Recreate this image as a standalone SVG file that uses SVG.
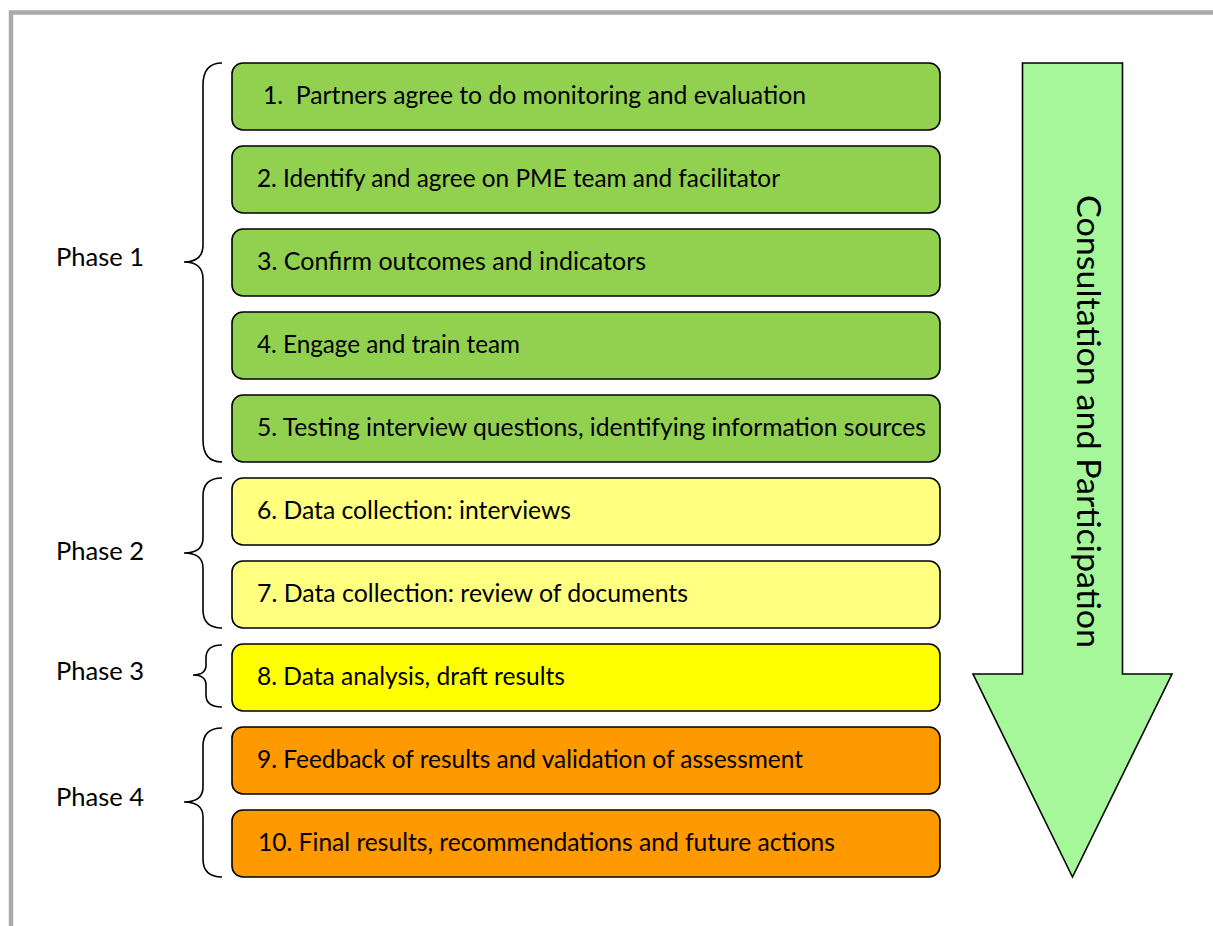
<svg xmlns="http://www.w3.org/2000/svg" width="1213" height="926" viewBox="0 0 1213 926">
  <style>
    .step { stroke: #000; stroke-width: 1.6; }
    .g { fill: #92D050; }
    .ly { fill: #FFFF80; }
    .y { fill: #FFFF00; }
    .o { fill: #FF9900; }
    text { font-family: Lato, "Open Sans", "Liberation Sans", sans-serif; fill: #000; }
    .lbl { font-size: 25px; }
    .brace { fill: none; stroke: #000; stroke-width: 1.6; }
  </style>

  <rect width="1213" height="926" fill="#fff"/>
  <!-- page frame -->
  <rect x="11" y="12.5" width="1300" height="1000" fill="none" stroke="#AAAAAA" stroke-width="4.5"/>

  <!-- phase braces and labels -->
  <g id="phase1">
    <path class="brace" d="M222,63 Q203,63 203,85 L203,245 Q203,262 184,262 Q203,262 203,279 L203,440 Q203,462 222,462"/>
    <text class="lbl" x="56" y="266" textLength="88" lengthAdjust="spacingAndGlyphs">Phase 1</text>
  </g>
  <g id="phase2">
    <path class="brace" d="M222,478 Q203,478 203,496 L203,538 Q203,553 184,553 Q203,553 203,568 L203,610 Q203,628 222,628"/>
    <text class="lbl" x="56" y="560" textLength="88" lengthAdjust="spacingAndGlyphs">Phase 2</text>
  </g>
  <g id="phase3">
    <path class="brace" d="M222,645 Q206,645 206,658 L206,665 Q206,675 193,675 Q206,675 206,685 L206,695 Q206,707 222,707"/>
    <text class="lbl" x="56" y="680" textLength="88" lengthAdjust="spacingAndGlyphs">Phase 3</text>
  </g>
  <g id="phase4">
    <path class="brace" d="M222,728 Q203,728 203,746 L203,787 Q203,802 184,802 Q203,802 203,817 L203,859 Q203,877 222,877"/>
    <text class="lbl" x="56" y="806" textLength="88" lengthAdjust="spacingAndGlyphs">Phase 4</text>
  </g>

  <!-- process steps -->
  <g id="step1">
    <rect class="step g" x="232" y="63" width="708" height="67" rx="11"/>
    <text class="lbl" x="263" y="104" textLength="543" lengthAdjust="spacingAndGlyphs" xml:space="preserve">1.  Partners agree to do monitoring and evaluation</text>
  </g>
  <g id="step2">
    <rect class="step g" x="232" y="146" width="708" height="67" rx="11"/>
    <text class="lbl" x="257" y="187" textLength="523" lengthAdjust="spacingAndGlyphs">2. Identify and agree on PME team and facilitator</text>
  </g>
  <g id="step3">
    <rect class="step g" x="232" y="229" width="708" height="67" rx="11"/>
    <text class="lbl" x="257" y="270" textLength="389" lengthAdjust="spacingAndGlyphs">3. Confirm outcomes and indicators</text>
  </g>
  <g id="step4">
    <rect class="step g" x="232" y="312" width="708" height="67" rx="11"/>
    <text class="lbl" x="257" y="353" textLength="263" lengthAdjust="spacingAndGlyphs">4. Engage and train team</text>
  </g>
  <g id="step5">
    <rect class="step g" x="232" y="395" width="708" height="67" rx="11"/>
    <text class="lbl" x="257" y="436" textLength="669" lengthAdjust="spacingAndGlyphs">5. Testing interview questions, identifying information sources</text>
  </g>
  <g id="step6">
    <rect class="step ly" x="232" y="478" width="708" height="67" rx="11"/>
    <text class="lbl" x="257" y="519" textLength="314" lengthAdjust="spacingAndGlyphs">6. Data collection: interviews</text>
  </g>
  <g id="step7">
    <rect class="step ly" x="232" y="561" width="708" height="67" rx="11"/>
    <text class="lbl" x="257" y="602" textLength="431" lengthAdjust="spacingAndGlyphs">7. Data collection: review of documents</text>
  </g>
  <g id="step8">
    <rect class="step y" x="232" y="644" width="708" height="67" rx="11"/>
    <text class="lbl" x="257" y="685" textLength="308" lengthAdjust="spacingAndGlyphs">8. Data analysis, draft results</text>
  </g>
  <g id="step9">
    <rect class="step o" x="232" y="727" width="708" height="67" rx="11"/>
    <text class="lbl" x="257" y="768" textLength="546" lengthAdjust="spacingAndGlyphs">9. Feedback of results and validation of assessment</text>
  </g>
  <g id="step10">
    <rect class="step o" x="232" y="810" width="708" height="67" rx="11"/>
    <text class="lbl" x="258" y="851" textLength="577" lengthAdjust="spacingAndGlyphs">10. Final results, recommendations and future actions</text>
  </g>

  <!-- consultation arrow running alongside the steps -->
  <g id="consultation">
    <path d="M1022.5,63 L1122.5,63 L1122.5,674 L1172,674 L1072.5,877 L973,674 L1022.5,674 Z" fill="#A6F79A" stroke="#000" stroke-width="1.6" stroke-linejoin="miter"/>
    <text x="1077" y="195" font-size="32" transform="rotate(90 1077 195)" textLength="453" lengthAdjust="spacingAndGlyphs">Consultation and Participation</text>
  </g>
</svg>
